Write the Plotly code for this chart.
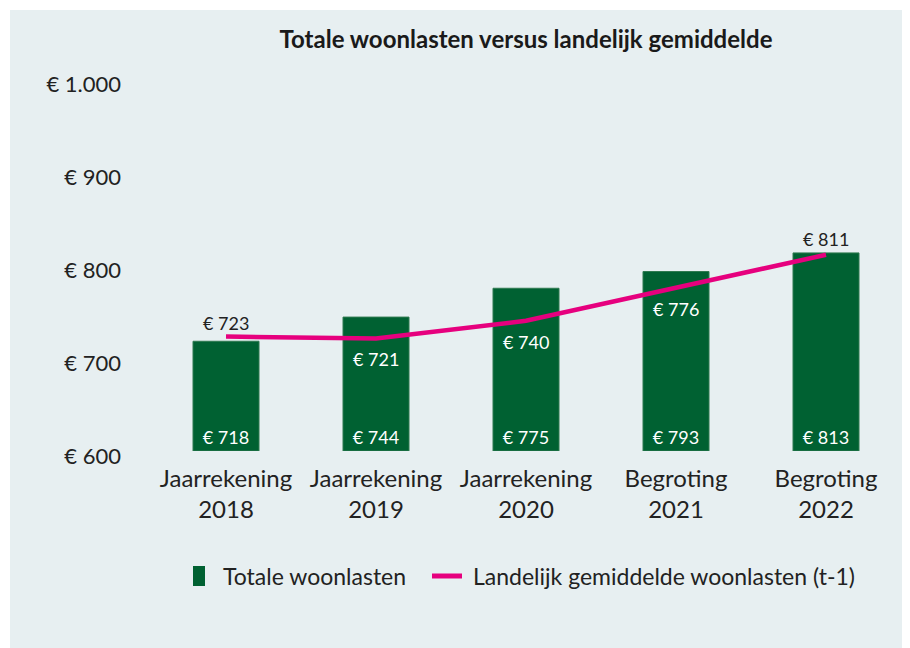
import plotly.graph_objects as go

categories = ["Jaarrekening<br>2018", "Jaarrekening<br>2019", "Jaarrekening<br>2020",
              "Begroting<br>2021", "Begroting<br>2022"]
totale_woonlasten = [718, 744, 775, 793, 813]
landelijk_gemiddeld = [723, 721, 740, 776, 811]
y_tickvals = [600, 700, 800, 900, 1000]
y_ticktext = ["€ 600", "€ 700", "€ 800", "€ 900", "€ 1.000"]
BASE = 600

FONT = "Lato"
BG = "#e7eff1"
GREEN = "#006132"
PINK = "#e6007e"
TXT = "#222222"

line_label_shift = [14, -21, -21, -22, 16]
line_label_col = [TXT, "white", "white", "white", TXT]

# page body has an 8px margin; work in figure pixel coordinates
OFF = 8
W, H = 910 - OFF, 648 - OFF

fig = go.Figure()
fig.add_trace(go.Bar(
    x=categories, y=[v - BASE for v in totale_woonlasten], base=BASE,
    name="Totale woonlasten",
    marker=dict(color=GREEN, line=dict(color="#2f7a50", width=1)),
    width=0.44,
    text=[f"€ {v}" for v in totale_woonlasten],
    textposition="inside", insidetextanchor="start",
    textfont=dict(family=FONT, size=18, color="white"),
    hoverinfo="skip",
))
fig.add_trace(go.Scatter(
    x=categories, y=landelijk_gemiddeld, name="Landelijk gemiddelde woonlasten (t-1)",
    mode="lines", line=dict(color=PINK, width=4.5),
))
for c, v, s, col in zip(categories, landelijk_gemiddeld, line_label_shift, line_label_col):
    fig.add_annotation(x=c, y=v, xref="x", yref="y", text=f"€ {v}", showarrow=False,
                       yshift=s, font=dict(family=FONT, size=18, color=col))

plot_l, plot_r, plot_t, plot_b = 226 - 75 - OFF, 826 + 75 - OFF, 79 - OFF, 451 - OFF
pw, ph = plot_r - plot_l, plot_b - plot_t
def px_x(p): return (p - OFF - plot_l) / pw
def px_y(p): return (plot_b - (p - OFF)) / ph

fig.add_shape(type="rect", xref="paper", yref="paper", layer="below",
              x0=px_x(10), x1=px_x(912), y0=px_y(650), y1=px_y(10),
              fillcolor=BG, line=dict(width=0))

# legend drawn by hand to match the reference's symbol sizes
fig.add_shape(type="rect", xref="paper", yref="paper",
              x0=px_x(193), x1=px_x(205), y0=px_y(586), y1=px_y(566),
              fillcolor=GREEN, line=dict(width=0))
fig.add_annotation(xref="paper", yref="paper", x=px_x(221), y=px_y(576),
                   xanchor="left", yanchor="middle", showarrow=False,
                   text="Totale woonlasten", font=dict(family=FONT, size=23, color=TXT))
fig.add_shape(type="line", xref="paper", yref="paper",
              x0=px_x(432), x1=px_x(462), y0=px_y(576), y1=px_y(576),
              line=dict(color=PINK, width=5))
fig.add_annotation(xref="paper", yref="paper", x=px_x(471), y=px_y(576),
                   xanchor="left", yanchor="middle", showarrow=False,
                   text="Landelijk gemiddelde woonlasten (t-1)",
                   font=dict(family=FONT, size=23, color=TXT))

fig.update_layout(
    width=W, height=H,
    margin=dict(l=plot_l, r=W - plot_r, t=plot_t, b=H - plot_b),
    paper_bgcolor="white", plot_bgcolor="rgba(0,0,0,0)",
    font=dict(family=FONT, color=TXT),
    title=dict(text="<b>Totale woonlasten versus landelijk gemiddelde</b>",
               x=px_x(526), xref="paper", xanchor="center",
               y=1 - (40 - OFF) / H, yanchor="middle",
               font=dict(family=FONT, size=24, color="#1a1a1a")),
    showlegend=False,
)
fig.update_yaxes(range=[600, 1000], tickvals=y_tickvals, ticktext=y_ticktext,
                 showgrid=False, zeroline=False, showline=False,
                 tickfont=dict(family=FONT, size=22, color=TXT),
                 ticklabelstandoff=29, ticklabelshift=5, ticks="")
fig.update_xaxes(showgrid=False, zeroline=False, showline=False, ticks="",
                 tickfont=dict(family=FONT, size=24, color=TXT),
                 ticklabelstandoff=11)

fig.write_html("out.html")
